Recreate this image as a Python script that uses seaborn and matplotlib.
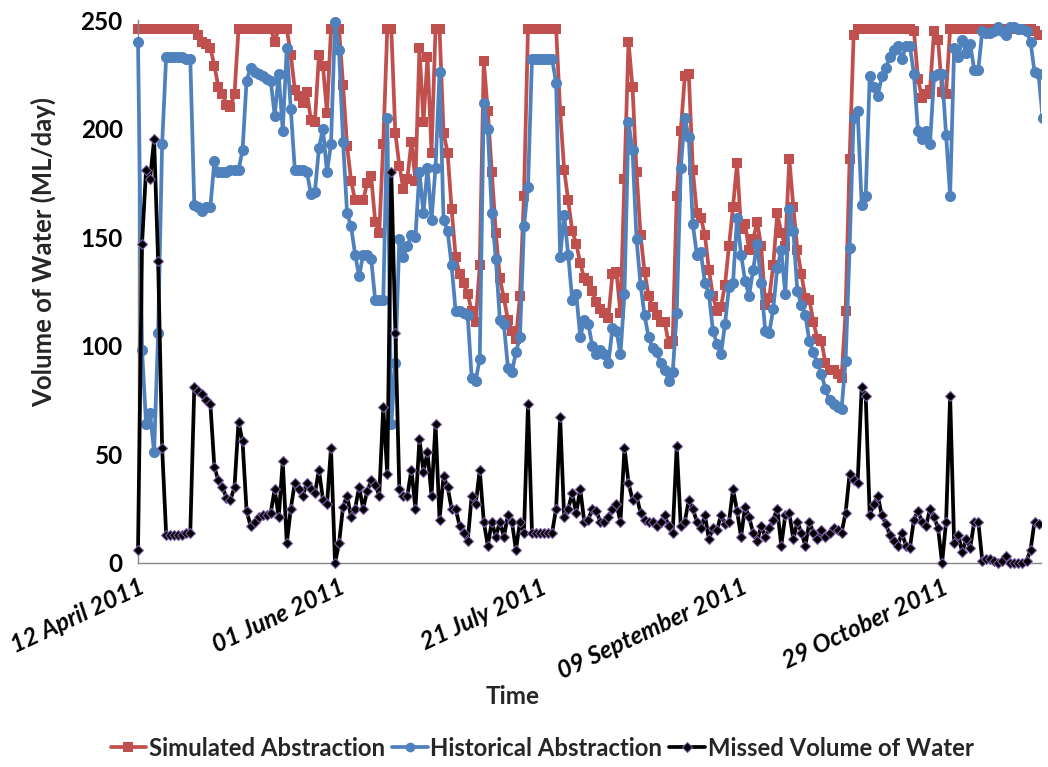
import numpy as np
import pandas as pd
import matplotlib
matplotlib.use("Agg")
import matplotlib.pyplot as plt
import seaborn as sns
from matplotlib.lines import Line2D
from matplotlib.transforms import Bbox, TransformedBbox

# ---------------- data ----------------
start_date = "2011-04-12"

simulated = [
    246, 246, 246, 246, 246, 246, 246, 246, 246, 246,
    246, 246, 246, 246, 246, 243, 240, 239, 237, 229,
    219, 216, 211, 210, 216, 246, 246, 246, 246, 246,
    246, 246, 246, 246, 240, 246, 246, 246, 234, 218,
    215, 212, 217, 204, 203, 234, 229, 207, 246, 246,
    246, 220, 192, 176, 167, 167, 167, 175, 178, 157,
    152, 193, 246, 246, 198, 183, 172, 177, 194, 176,
    237, 203, 233, 189, 246, 246, 198, 189, 163, 141,
    133, 129, 124, 116, 111, 137, 231, 208, 180, 152,
    131, 122, 112, 107, 103, 123, 169, 246, 246, 246,
    246, 246, 246, 246, 246, 208, 181, 167, 153, 147,
    138, 131, 130, 125, 120, 117, 115, 113, 133, 134,
    115, 177, 240, 219, 180, 151, 134, 123, 118, 114,
    111, 111, 101, 102, 169, 199, 224, 225, 181, 161,
    159, 151, 135, 123, 116, 118, 128, 146, 164, 184,
    154, 156, 144, 149, 157, 146, 119, 122, 137, 161,
    152, 146, 186, 164, 144, 133, 122, 121, 111, 103,
    102, 92, 89, 89, 87, 85, 116, 186, 243, 246,
    246, 246, 246, 246, 246, 246, 246, 246, 246, 246,
    246, 246, 246, 245, 223, 214, 216, 218, 245, 241,
    217, 216, 246, 246, 246, 246, 246, 246, 246, 246,
    246, 246, 246, 246, 246, 246, 246, 246, 246, 246,
    246, 246, 246, 245, 243, 243,
]

historical = [
    240, 98, 64, 69, 51, 106, 193, 233, 233, 233,
    233, 233, 232, 232, 165, 164, 162, 164, 164, 185,
    180, 180, 180, 181, 181, 181, 190, 222, 228, 226,
    225, 224, 223, 222, 206, 225, 199, 237, 209, 181,
    181, 181, 180, 170, 171, 191, 200, 180, 193, 249,
    236, 194, 161, 155, 142, 132, 142, 142, 140, 121,
    121, 121, 205, 64, 92, 149, 141, 146, 151, 150,
    180, 161, 182, 158, 182, 226, 158, 153, 137, 116,
    116, 115, 114, 85, 84, 94, 212, 200, 161, 140,
    112, 110, 90, 88, 97, 104, 155, 173, 232, 232,
    232, 232, 232, 232, 221, 141, 160, 142, 121, 124,
    104, 112, 110, 100, 96, 98, 96, 92, 108, 107,
    96, 124, 203, 190, 149, 128, 114, 104, 99, 97,
    92, 89, 84, 88, 115, 182, 205, 196, 156, 142,
    143, 129, 124, 107, 101, 96, 110, 127, 129, 159,
    142, 130, 123, 135, 147, 129, 107, 106, 117, 136,
    144, 124, 163, 153, 125, 119, 114, 102, 97, 92,
    87, 80, 75, 73, 72, 71, 93, 145, 205, 208,
    165, 169, 224, 219, 215, 224, 228, 233, 236, 238,
    232, 238, 238, 225, 199, 195, 199, 193, 224, 225,
    225, 197, 169, 237, 233, 241, 235, 239, 227, 227,
    245, 244, 244, 245, 247, 245, 243, 247, 247, 246,
    246, 245, 240, 226, 225, 205,
]

missed = [
    6, 147, 181, 177, 195, 139, 53, 13, 13, 13,
    13, 13, 14, 14, 81, 79, 78, 75, 73, 44,
    38, 35, 30, 29, 35, 65, 56, 24, 17, 19,
    21, 22, 22, 23, 34, 21, 47, 9, 25, 37,
    34, 31, 37, 34, 32, 43, 29, 27, 53, 0,
    9, 26, 31, 21, 25, 35, 25, 33, 38, 36,
    31, 72, 41, 180, 106, 34, 31, 31, 43, 25,
    57, 42, 51, 31, 64, 20, 40, 35, 25, 25,
    17, 14, 10, 31, 27, 43, 19, 8, 19, 12,
    19, 12, 22, 19, 6, 19, 14, 73, 14, 14,
    14, 14, 14, 14, 25, 67, 21, 25, 32, 23,
    34, 19, 20, 25, 24, 19, 19, 21, 25, 27,
    19, 53, 37, 29, 31, 23, 20, 19, 19, 17,
    19, 22, 17, 14, 54, 17, 19, 29, 25, 19,
    16, 22, 11, 16, 15, 22, 18, 19, 34, 24,
    12, 26, 21, 14, 10, 17, 12, 16, 20, 25,
    8, 22, 23, 11, 19, 14, 8, 19, 14, 11,
    15, 12, 14, 16, 15, 14, 23, 41, 38, 37,
    81, 77, 22, 27, 31, 22, 18, 13, 10, 8,
    14, 8, 7, 20, 24, 19, 17, 25, 21, 16,
    0, 19, 77, 9, 13, 5, 11, 7, 19, 19,
    1, 2, 2, 1, 0, 1, 3, 0, 0, 0,
    0, 1, 6, 19, 18, np.nan,
]

series_names = ["Simulated Abstraction", "Historical Abstraction", "Missed Volume of Water"]
tick_dates = ["2011-04-12", "2011-06-01", "2011-07-21", "2011-09-09", "2011-10-29"]
tick_labels = ["12 April 2011", "01 June 2011", "21 July 2011", "09 September 2011", "29 October 2011"]
y_ticks = [0, 50, 100, 150, 200, 250]

# ---------------- style ----------------
RED = "#C0504D"
BLUE = "#4F81BD"
BLACK = "#000000"
PURPLE = "#7B5EA7"
AXIS_GREY = "#868686"

sns.set_theme(style="white")
plt.rcParams["font.family"] = ["Lato", "DejaVu Sans"]
plt.rcParams["font.weight"] = "bold"

dates = pd.date_range(start_date, periods=len(simulated), freq="D")
df = pd.DataFrame({
    "Date": dates,
    "Simulated": simulated,
    "Historical": historical,
    "Missed": missed,
})

fig = plt.figure(figsize=(10.48, 7.67), dpi=100)
ax = fig.add_axes([0.1317, 0.2660, 0.8616, 0.7079])

sns.lineplot(data=df, x="Date", y="Simulated", ax=ax, color=RED, linewidth=2.7,
             marker="s", markersize=7.5, markeredgewidth=0, markeredgecolor=RED,
             legend=False, zorder=2)
sns.lineplot(data=df, x="Date", y="Historical", ax=ax, color=BLUE, linewidth=2.7,
             marker="o", markersize=8.0, markeredgewidth=0, markeredgecolor=BLUE,
             legend=False, zorder=3)
sns.lineplot(data=df, x="Date", y="Missed", ax=ax, color=BLACK, linewidth=2.7,
             marker="D", markersize=5.5, markeredgewidth=0.8, markeredgecolor=PURPLE,
             markerfacecolor=BLACK, legend=False, zorder=4)

# let markers overflow vertically like Excel, but clip horizontally at the plot edge
clip = TransformedBbox(Bbox([[-0.02, -0.05], [1.0, 1.06]]), ax.transAxes)
for ln in ax.lines:
    ln.set_clip_path(None)
    ln.set_clip_box(clip)

x0 = pd.Timestamp(start_date)
ax.set_xlim(x0, x0 + pd.Timedelta(hours=224.6 * 24))
ax.set_ylim(0, 250)
ax.set_yticks(y_ticks)
ax.set_yticklabels([str(v) for v in y_ticks], fontsize=17.5, fontweight="bold")
ax.set_xticks(pd.to_datetime(tick_dates))
ax.set_xticklabels(tick_labels, rotation=25, ha="right", va="top",
                   rotation_mode="anchor", fontsize=17.5, fontweight="bold",
                   fontstyle="italic")
ax.set_xlabel("")
ax.set_ylabel("")

for side in ["top", "right"]:
    ax.spines[side].set_visible(False)
for side in ["left", "bottom"]:
    ax.spines[side].set_color(AXIS_GREY)
    ax.spines[side].set_linewidth(1.0)
ax.tick_params(axis="both", which="major", direction="out", length=6,
               width=1.0, color=AXIS_GREY, labelcolor="black")
ax.tick_params(axis="y", pad=5)
ax.tick_params(axis="x", pad=3)
ax.grid(False)

fig.text(43 / 1048, 1 - 252 / 767, "Volume of Water (ML/day)", rotation=90,
         ha="center", va="center", fontsize=18.5, fontweight="bold")
fig.text(513 / 1048, 1 - 697 / 767, "Time", ha="center", va="center",
         fontsize=17.5, fontweight="bold")

handles = [
    Line2D([0], [0], color=RED, lw=2.7, marker="s", markersize=6.5, markeredgewidth=0),
    Line2D([0], [0], color=BLUE, lw=2.7, marker="o", markersize=7, markeredgewidth=0),
    Line2D([0], [0], color=BLACK, lw=2.7, marker="D", markersize=5,
           markeredgewidth=0.8, markeredgecolor=PURPLE),
]
fig.legend(handles, series_names, loc="center", bbox_to_anchor=(542 / 1048, 1 - 748 / 767),
           ncol=3, frameon=False, handlelength=1.5, handletextpad=0.1,
           columnspacing=0.3, prop={"size": 17.2, "weight": "bold"})

fig.savefig("out.png", dpi=100)
